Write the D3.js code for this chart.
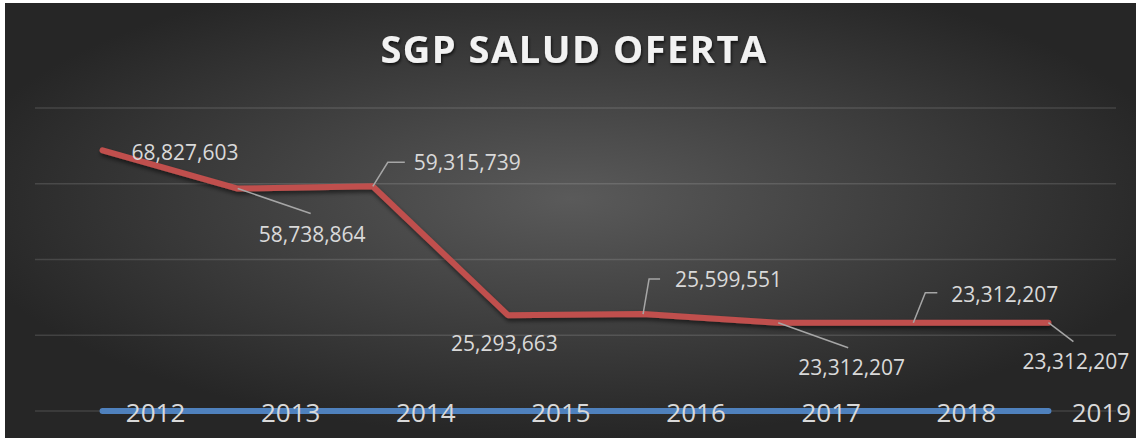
<!DOCTYPE html>
<html>
<head>
<meta charset="utf-8">
<script src="https://cdn.jsdelivr.net/npm/d3@7"></script>
<style>
  html, body { margin: 0; padding: 0; background: #fff; }
  svg { display: block; font-family: "Open Sans", sans-serif; }
</style>
</head>
<body>
<svg></svg>
<script>
// Chart data
const years = ["2012", "2013", "2014", "2015", "2016", "2017", "2018", "2019"];
const oferta = [68827603, 58738864, 59315739, 25293663, 25599551, 23312207, 23312207, 23312207];
// second series: the year numbers themselves, so they sit on the zero line
const yearSeries = [2012, 2013, 2014, 2015, 2016, 2017, 2018, 2019];
const yTicks = [0, 20000000, 40000000, 60000000, 80000000];
const title = "SGP SALUD OFERTA";

// where each data label sits relative to its point (and its leader line, if any)
const labelLayout = [
    { dx: 29, dy: 10, leader: null },
    { dx: 21, dy: 53, leader: [[0, 0], [73, 25]] },
    { dx: 41, dy: -16, leader: [[0, 0], [15, -24], [32, -24]] },
    { dx: -57, dy: 36, leader: null },
    { dx: 32, dy: -27, leader: [[0, 0], [6, -35], [17, -35]] },
    { dx: 20, dy: 52, leader: [[0, 0], [70, 25]] },
    { dx: 38, dy: -21, leader: [[0, 0], [12, -30], [24, -30]] },
    { dx: -26, dy: 46, leader: [[0, 0], [25, 19]] }
];

function makeChart() {
    const width = 1137;
    const height = 438;
    const margin = { top: 108, right: 21, bottom: 27, left: 35 };

    const svg = d3.select("svg")
        .attr("width", width)
        .attr("height", height);

    const defs = svg.append("defs");

    const bg = defs.append("radialGradient")
        .attr("id", "bg")
        .attr("cx", "50%").attr("cy", "45%")
        .attr("r", "55%");
    bg.append("stop").attr("offset", "0%").attr("stop-color", "#5a5a5a");
    bg.append("stop").attr("offset", "100%").attr("stop-color", "#262626");

    const shadow = defs.append("filter").attr("id", "shadow")
        .attr("x", "-10%").attr("y", "-20%").attr("width", "120%").attr("height", "160%");
    shadow.append("feDropShadow")
        .attr("dx", 1).attr("dy", 3).attr("stdDeviation", 2)
        .attr("flood-color", "#000").attr("flood-opacity", 0.55);

    const titleShadow = defs.append("filter").attr("id", "tshadow");
    titleShadow.append("feDropShadow")
        .attr("dx", 1).attr("dy", 2).attr("stdDeviation", 1.5)
        .attr("flood-color", "#000").attr("flood-opacity", 0.7);

    // Background panel
    svg.append("rect")
        .attr("x", 5).attr("y", 3)
        .attr("width", width - 6).attr("height", height - 3)
        .attr("fill", "url(#bg)");

    // Scales
    const x = d3.scaleBand()
        .domain(years)
        .range([margin.left, width - margin.right]);

    const y = d3.scaleLinear()
        .domain([0, 80000000])
        .range([height - margin.bottom, margin.top]);

    const px = d => x(d) + x.bandwidth() / 2;

    // Gridlines
    svg.append("g")
        .selectAll("line")
        .data(yTicks)
        .join("line")
        .attr("x1", margin.left)
        .attr("x2", width - margin.right)
        .attr("y1", d => y(d))
        .attr("y2", d => y(d))
        .attr("stroke", "rgba(255,255,255,0.13)")
        .attr("stroke-width", 1.5);

    // Title
    svg.append("text")
        .attr("x", 574)
        .attr("y", 63)
        .attr("text-anchor", "middle")
        .attr("fill", "#f2f2f2")
        .attr("font-weight", "bold")
        .attr("font-size", 38)
        .attr("letter-spacing", 1.5)
        .attr("filter", "url(#tshadow)")
        .text(title);

    const line = d3.line()
        .x((d, i) => px(years[i]))
        .y(d => y(d));

    // Blue series (years, close to zero)
    svg.append("path")
        .datum(yearSeries)
        .attr("fill", "none")
        .attr("stroke", "#4f81bd")
        .attr("stroke-width", 6)
        .attr("stroke-linecap", "round")
        .attr("d", line);

    // Red series
    svg.append("path")
        .datum(oferta)
        .attr("fill", "none")
        .attr("stroke", "#c0504d")
        .attr("stroke-width", 6)
        .attr("stroke-linecap", "round")
        .attr("stroke-linejoin", "round")
        .attr("filter", "url(#shadow)")
        .attr("d", line);

    // Category labels (sit over the blue line, shifted right of the points)
    svg.append("g")
        .selectAll("text")
        .data(years)
        .join("text")
        .attr("x", d => px(d) + 53)
        .attr("y", height - margin.bottom + 11)
        .attr("text-anchor", "middle")
        .attr("fill", "#d9d9d9")
        .attr("font-size", 26)
        .text(d => d);

    // Data labels with leader lines
    const fmt = d3.format(",");
    const labels = svg.append("g");
    oferta.forEach((v, i) => {
        const cx = px(years[i]);
        const cy = y(v);
        const lay = labelLayout[i];
        if (lay.leader) {
            labels.append("path")
                .attr("fill", "none")
                .attr("stroke", "#a6a6a6")
                .attr("stroke-width", 1.5)
                .attr("d", d3.line()(lay.leader.map(p => [cx + p[0], cy + p[1]])));
        }
        labels.append("text")
            .attr("x", cx + lay.dx)
            .attr("y", cy + lay.dy)
            .attr("fill", "#d9d9d9")
            .attr("font-size", 21)
            .text(fmt(v));
    });
}

makeChart();
</script>
</body>
</html>
